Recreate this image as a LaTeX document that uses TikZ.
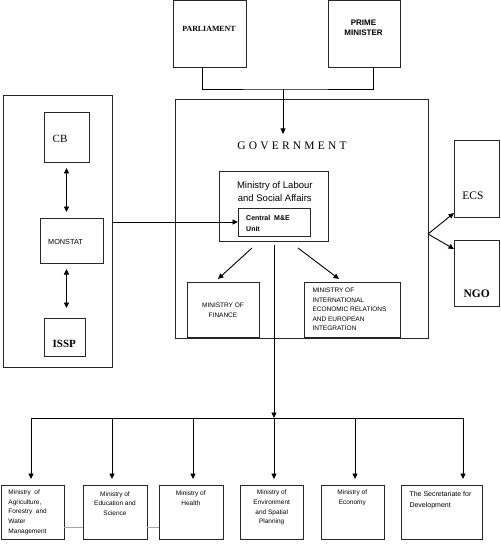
\documentclass[tikz,border=0pt]{standalone}
\usepackage{fontspec}
\setmainfont{Liberation Serif}
\setsansfont{Liberation Sans}
\usetikzlibrary{arrows.meta}

\begin{document}
\begin{tikzpicture}[x=1pt,y=-1pt,
	box/.style={draw=black!85,line width=1pt,inner sep=0pt,outer sep=0pt},
	txt/.style={inner sep=0pt,font=\sffamily\fontsize{6.5}{9.6}\selectfont},
	arr/.style={-{Triangle[length=5.5pt,width=5pt]},line width=0.9pt},
	darr/.style={{Triangle[length=5.5pt,width=5pt]}-{Triangle[length=5.5pt,width=5pt]},line width=0.9pt}]
	\useasboundingbox (0,0) rectangle (500,545);
	
	% top
	\node[box,minimum width=73,minimum height=67] (parl) at (209.5,34.5) {};
	\node[box,minimum width=72,minimum height=67] (pm) at (364,34.5) {};
	\node[txt,font=\rmfamily\bfseries\fontsize{7.9}{9}\selectfont] (parltxt) at (209,28.7) {PARLIAMENT};
	\node[txt,align=center,font=\sffamily\bfseries\fontsize{8}{10}\selectfont] (pmtxt) at (363.5,27.7) {PRIME\\MINISTER};
	
	% government
	\node[box,minimum width=253,minimum height=238] (gov) at (301.5,219) {};
	\node[txt,font=\rmfamily\fontsize{11.5}{13}\selectfont\addfontfeatures{LetterSpace=28}] (govtxt) at (292,146) {GOVERNMENT};
	\node[box,minimum width=109,minimum height=69] (mlsa) at (274,206.5) {};
	\node[txt,align=center,font=\sffamily\fontsize{9.5}{13}\selectfont] (mlsatxt) at (274.8,191.7) {Ministry of Labour\\and Social Affairs};
	\node[box,minimum width=72,minimum height=28] (unit) at (274,222) {};
	\node[txt,align=left,anchor=west,font=\sffamily\bfseries\fontsize{7}{10.7}\selectfont] (unittxt) at (246,223.7) {Central~ M\&E\\Unit};
	\node[box,minimum width=72,minimum height=55] (fin) at (223,309.5) {};
	\node[txt,align=center] (fintxt) at (223,310.5) {MINISTRY OF\\FINANCE};
	\node[box,minimum width=96,minimum height=55] (intl) at (352,309.5) {};
	\node[txt,align=left,anchor=west,font=\sffamily\fontsize{6.5}{9.5}\selectfont] (intltxt) at (312.3,309.7) {MINISTRY OF\\INTERNATIONAL\\ECONOMIC RELATIONS\\AND EUROPEAN\\INTEGRATION};
	
	% left block
	\node[box,minimum width=109,minimum height=271] (left) at (57.5,231.5) {};
	\node[box,minimum width=45,minimum height=50] (cb) at (66.5,138) {};
	\node[txt,font=\rmfamily\fontsize{11}{13}\selectfont] (cbtxt) at (60,138.7) {CB};
	\node[box,minimum width=63,minimum height=45] (monstat) at (71.5,240.5) {};
	\node[txt,font=\sffamily\fontsize{7.3}{9}\selectfont] (monstattxt) at (65.5,242) {MONSTAT};
	\node[box,minimum width=41,minimum height=38] (issp) at (64.5,337) {};
	\node[txt,font=\rmfamily\bfseries\fontsize{11}{13}\selectfont] (issptxt) at (64.3,344) {ISSP};
	
	% right block
	\node[box,minimum width=45,minimum height=76] (ecs) at (476.5,179) {};
	\node[txt,font=\rmfamily\fontsize{11.5}{13}\selectfont] (ecstxt) at (473,195.7) {ECS};
	\node[box,minimum width=45,minimum height=66] (ngo) at (476.5,273) {};
	\node[txt,font=\rmfamily\bfseries\fontsize{11.5}{13}\selectfont] (ngotxt) at (476.7,294) {NGO};
	
	% bottom ministries
	\foreach \n/\cx/\w in {b1/32.5/63,b2/115/64,b3/191/64,b4/271.5/63,b5/352.5/63,b6/441.5/81}
		\node[box,minimum width=\w,minimum height=54] (\n) at (\cx,512) {};
	\node[txt,align=left,anchor=west] (b1txt) at (8.3,512.3) {Ministry~ of\\Agriculture,\\Forestry~ and\\Water\\Management};
	\node[txt,align=center] (b2txt) at (115,503.5) {Ministry of\\Education and\\Science};
	\node[txt,align=center] (b3txt) at (190.8,498.3) {Ministry of\\Health};
	\node[txt,align=center] (b4txt) at (271.7,507.7) {Ministry of\\Environment\\and Spatial\\Planning};
	\node[txt,align=center] (b5txt) at (352.3,498) {Ministry of\\Economy};
	\node[txt,align=left,anchor=west,font=\sffamily\fontsize{7}{10.7}\selectfont] (b6txt) at (409.3,500.3) {The Secretariate for\\Development};
	
	% connectors
	\coordinate (join) at (283,89);
	\draw[line width=0.9pt] ([xshift=-7.5]parl.south) |- (join) -| ([xshift=9.5]pm.south);
	\draw[arr,shorten >=8pt] (join) -- (govtxt.north -| join);
	\draw[darr,shorten <=5pt,shorten >=6pt] (cb.south) -- (cb.south |- monstat.north);
	\draw[darr,shorten <=6pt,shorten >=10pt] (monstat.south -| cb.south) -- (issp.north -| cb.south);
	\draw[arr] (left.east |- unit.west) -- (unit.west);
	\draw[arr] ([xshift=-22,yshift=-7]mlsa.south) -- ([xshift=-5,yshift=3]fin.north);
	\draw[arr] ([xshift=24,yshift=-7]mlsa.south) -- ([xshift=-13,yshift=3]intl.north);
	\draw[arr] ([yshift=-15]gov.east) -- ([yshift=-34]ecs.west);
	\draw[arr] ([yshift=-15]gov.east) -- ([yshift=24]ngo.west);
	\foreach \n/\dx in {b1/31,b2/112,b3/193,b4/274,b5/355,b6/463} {
		\coordinate (d\n) at (\dx,418);
		\draw[arr,shorten >=6pt] (d\n) -- (\n.north -| d\n);
	}
	\draw[line width=0.9pt] (db1) -- (db6);
	\draw[arr] ([yshift=-4]mlsa.south) -- (db4);
	\draw[gray!70,line width=0.8pt] ([yshift=-15]b1.east) -- ([yshift=-15]b2.west);
	\draw[gray!70,line width=0.8pt] ([yshift=-15]b2.east) -- ([yshift=-15]b3.west);
\end{tikzpicture}
\end{document}
